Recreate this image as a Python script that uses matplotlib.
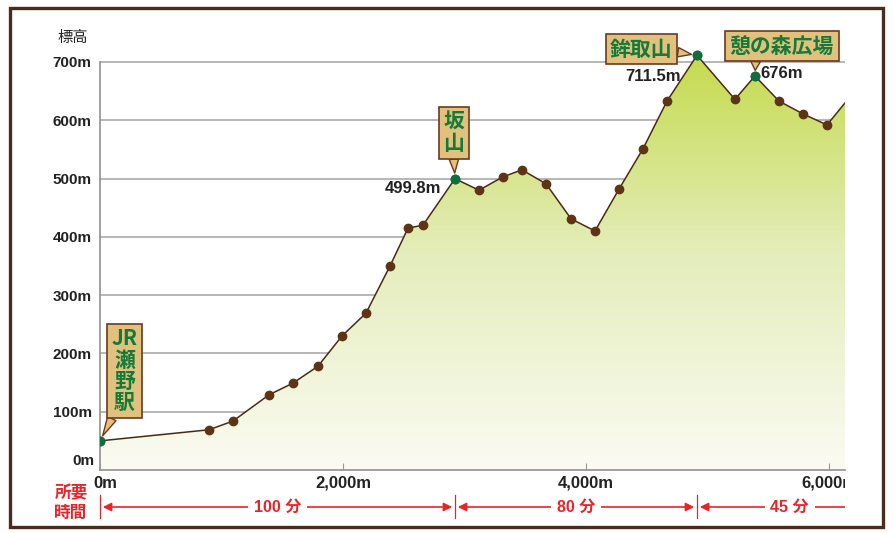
import numpy as np
import matplotlib
matplotlib.use('Agg')
import matplotlib.pyplot as plt
from matplotlib.colors import LinearSegmentedColormap
from matplotlib.patches import Rectangle
from matplotlib.transforms import blended_transform_factory

plt.rcParams['font.family'] = ['Liberation Sans', 'Noto Sans CJK JP']

# distance (m) and elevation (m) of the route points
dist = [0, 897, 1095, 1391, 1588, 1794, 1992, 2189, 2387, 2535, 2658, 2922,
        3119, 3317, 3473, 3671, 3877, 4074, 4272, 4469, 4667, 4914,
        5226, 5391, 5588, 5786, 5984, 6180]
elev = [50, 69, 84, 129, 149, 178, 230, 269, 350, 415, 420, 499.8,
        480, 503, 515, 491, 431, 410, 482, 551, 633, 711.5,
        636, 676, 633, 611, 592, 642]

# named stations
st_names = ['JR\n瀬\n野\n駅', '坂\n山', '鉾取山', '憩の森広場']
st_dist = [0, 2922, 4914, 5391]
st_elev = [50, 499.8, 711.5, 676]
st_value = [None, '499.8m', '711.5m', '676m']

# walking time per section
time_bounds = [0, 2922, 4914, 6440]
time_labels = ['100 分', '80 分', '45 分']

y_ticks = [100, 200, 300, 400, 500, 600, 700]
x_ticks = [0, 2000, 4000, 6000]
x_labels = ['0m', '2,000m', '4,000m', '6,000m']

W, H = 894, 533
fig = plt.figure(figsize=(W / 100, H / 100), dpi=100)
ax = fig.add_axes([100 / W, 63 / H, 745 / W, 425.5 / H])
xmax = 6132
ax.set_xlim(0, xmax)
ax.set_ylim(0, 730)

# gradient fill under the profile
cmap = LinearSegmentedColormap.from_list('g', ['#fbfbf3', '#e4edba', '#c2d944'])
grad = np.linspace(0, 1, 256).reshape(-1, 1)
img = ax.imshow(grad, extent=[0, xmax, 0, 730], origin='lower', aspect='auto',
                cmap=cmap, vmin=0, vmax=730 / 715, zorder=1)
poly = ax.fill_between(dist, elev, 0, facecolor='none', edgecolor='none')
img.set_clip_path(poly.get_paths()[0], transform=ax.transData)

# grid
for v in y_ticks:
    ax.axhline(v, color='#aaaaaa', lw=1.2, zorder=0.5)

ax.plot(dist, elev, color='#4a2a14', lw=1.1, zorder=3)
ax.plot(dist[:-1], elev[:-1], 'o', ms=6, color='#5e3514', zorder=4)
ax.plot(st_dist, st_elev, 'o', ms=6, color='#0b7040', zorder=5)

for s in ['top', 'right']:
    ax.spines[s].set_visible(False)
for s in ['left', 'bottom']:
    ax.spines[s].set_color('#999999')
    ax.spines[s].set_linewidth(1.3)
ax.spines['left'].set_bounds(0, 700)

ax.set_yticks(y_ticks)
ax.set_yticklabels([f'{v}m' for v in y_ticks], fontsize=11, fontweight='bold', color='#222222')
ax.tick_params(axis='y', length=0, pad=6)
ax.text(-0.007, 15, '0m', transform=blended_transform_factory(ax.transAxes, ax.transData),
        ha='right', va='center', fontsize=11, fontweight='bold', color='#222222', clip_on=False)
ax.text(88 / W, 1 - 38 / H, '標高', transform=fig.transFigure, ha='right', va='center',
        fontsize=11, color='#222222')

ax.set_xticks(x_ticks)
ax.set_xticklabels([])
ax.tick_params(axis='x', direction='in', length=5, color='#999999')
clip_rect = Rectangle((0, 0), 845 / W, 1, transform=fig.transFigure)
xt = blended_transform_factory(ax.transData, fig.transFigure)
for xv, lab in zip(x_ticks, x_labels):
    t = ax.text(xv + (40 if xv == 0 else 0), 1 - 483 / H, lab, transform=xt, ha='center',
                va='center', fontsize=12, fontweight='bold', color='#222222')
    t.set_clip_on(True)
    t.set_clip_path(clip_rect)

# station callouts
box = dict(boxstyle='square,pad=0.22', fc='#e2c17e', ec='#6b3a1e', lw=1.2)
offsets = [(17.6, 50.4), (-1, 33), (-40, 4.3), (19.4, 21.6)]
relpos = [(0.12, 0), (0.5, 0), (1, 0.4), (0.25, 0)]
for name, xv, yv, off, rp in zip(st_names, st_dist, st_elev, offsets, relpos):
    arr = dict(arrowstyle='wedge,tail_width=0.45,shrink_factor=0.5', fc='#e2c17e',
               ec='#6b3a1e', lw=1.0, shrinkA=0, shrinkB=4, relpos=rp)
    ax.annotate(name, xy=(xv, yv), xytext=off, textcoords='offset points', ha='center',
                va='center', fontsize=15, fontweight='bold', color='#137a3a',
                linespacing=1.02, bbox=box, arrowprops=arr, zorder=6,
                family=['Noto Sans CJK JP'], annotation_clip=False)

val_off = [None, (-10, -7, 'right'), (-12, -15, 'right'), (4, 2, 'left')]
for xv, yv, lab, off in zip(st_dist, st_elev, st_value, val_off):
    if lab is None:
        continue
    ax.annotate(lab, xy=(xv, yv), xytext=off[:2], textcoords='offset points', ha=off[2],
                va='center', fontsize=12, fontweight='bold', color='#222222', zorder=6,
                annotation_clip=False)

# walking time row
red = '#e8242a'
fig.text(71 / W, 1 - 503 / H, '所要\n時間', ha='center', va='center', fontsize=12,
         color=red, linespacing=1.15, fontweight='bold', family=['Noto Sans CJK JP'])
y_arr = 1 - 507 / H
for b in time_bounds[:-1]:
    ax.plot([b, b], [1 - 495 / H, 1 - 518 / H], transform=xt, color=red, lw=0.9, clip_on=False)
for i, lab in enumerate(time_labels):
    a, b = time_bounds[i], time_bounds[i + 1]
    style = '<|-|>' if i < len(time_labels) - 1 else '<|-'
    an = ax.annotate('', xy=(b, y_arr), xytext=(a, y_arr), xycoords=xt, textcoords=xt,
                     arrowprops=dict(arrowstyle=style + ',head_length=0.5,head_width=0.25',
                                     color=red, lw=1.2, shrinkA=2, shrinkB=2),
                     annotation_clip=False)
    an.arrow_patch.set_clip_path(clip_rect)
    ax.text((a + b) / 2, y_arr, lab, transform=xt, ha='center', va='center',
            fontsize=11.5, color=red, fontweight='bold',
            family=['Liberation Sans', 'Noto Sans CJK JP'],
            bbox=dict(fc='white', ec='none', pad=4))

# outer frame
fig.patches.append(Rectangle((10 / W, 1 - 527 / H), 873 / W, 519 / H, transform=fig.transFigure,
                             fill=False, ec='#4a2c1c', lw=2.4))

fig.savefig('out.png', dpi=100)
